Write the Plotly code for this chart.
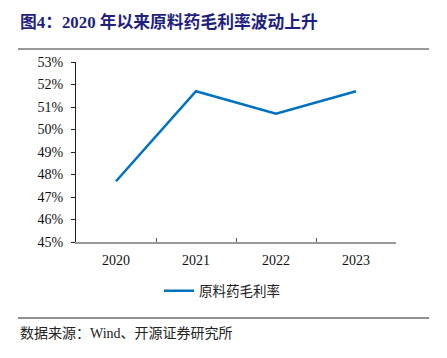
import plotly.graph_objects as go

years = ["2020", "2021", "2022", "2023"]
gross_margin = [47.7, 51.7, 50.7, 51.7]
series_name = "原料药毛利率"
title_text = "图4：2020 年以来原料药毛利率波动上升"
source_text = "数据来源：Wind、开源证券研究所"

OFF = 8  # page body margin offset
W, H = 447 - OFF, 358 - OFF
L, R, T, B = 76 - OFF, 396 - OFF, 62 - OFF, 242 - OFF
pw, ph = R - L, B - T

def px(x):
    return (x - OFF - L) / pw

def py(y):
    return (B - (y - OFF)) / ph

serif = "Liberation Serif, Times New Roman, Noto Sans CJK SC, serif"
cjk = "Noto Sans CJK SC, sans-serif"

fig = go.Figure()
fig.add_trace(go.Scatter(
    x=years, y=gross_margin, mode="lines", name=series_name,
    line=dict(color="#0070C0", width=2.5),
))

fig.update_layout(
    width=W, height=H,
    margin=dict(l=L, r=W - R, t=T, b=H - B),
    paper_bgcolor="white", plot_bgcolor="white",
    showlegend=True,
    legend=dict(orientation="h", x=px(222), y=py(291), xanchor="center", yanchor="middle",
                font=dict(family=cjk, size=13.5, color="#222"), itemwidth=30,
                bgcolor="rgba(0,0,0,0)"),
    xaxis=dict(
        type="category", range=[-0.5, 3.5],
        showline=True, linecolor="#999999", linewidth=2,
        ticks="inside", tickson="boundaries", ticklen=4, tickcolor="#555",
        showgrid=False, zeroline=False,
        tickfont=dict(family=serif, size=14, color="#111"),
        ticklabelstandoff=4,
    ),
    yaxis=dict(
        range=[45, 53], dtick=1, ticksuffix="%",
        showline=True, linecolor="#222", linewidth=1,
        ticks="outside", ticklen=4, tickcolor="#222",
        showgrid=False, zeroline=False,
        tickfont=dict(family=serif, size=14, color="#111"),
        ticklabelstandoff=5,
    ),
)

fig.add_annotation(
    text="<b>" + title_text + "</b>", xref="paper", yref="paper",
    x=px(18), y=py(22), xanchor="left", yanchor="middle", showarrow=False,
    font=dict(family="Liberation Serif, Noto Sans CJK SC, serif", size=16.8, color="#1F1F7F"),
)
fig.add_annotation(
    text=source_text, xref="paper", yref="paper",
    x=px(18), y=py(333), xanchor="left", yanchor="middle", showarrow=False,
    font=dict(family="Liberation Serif, Noto Sans CJK SC, serif", size=14, color="#222"),
)
fig.add_shape(type="line", xref="paper", yref="paper",
              x0=px(18), x1=px(429), y0=py(49), y1=py(49),
              line=dict(color="#999999", width=2))
fig.add_shape(type="line", xref="paper", yref="paper",
              x0=px(18), x1=px(429), y0=py(318), y1=py(318),
              line=dict(color="#222222", width=1))

fig.write_html("out.html")
